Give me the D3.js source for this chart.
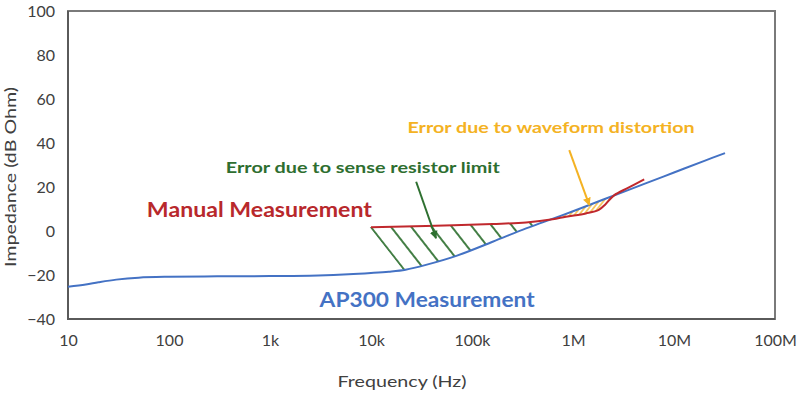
<!DOCTYPE html>
<meta charset="utf-8">
<style>
body { margin: 0; background: #fff; }
text { font-family: Lato, "Open Sans", sans-serif; }
.tick text { fill: #404040; font-size: 16px; }
</style>
<body>
<script src="https://cdn.jsdelivr.net/npm/d3@7"></script>
<script>
var width = 800, height = 394;

// AP300 measurement: frequency (Hz) / impedance (dB Ohm)
var apFreq  = [10, 15, 20, 30, 50, 100, 300, 1000, 3000, 6000, 10000, 15000, 22000, 35000, 70000, 160000, 343000, 500000, 1000000, 2000000, 5000000, 10000000, 20000000, 32000000];
var apValue = [-25.3, -24.3, -23.3, -22.1, -21.2, -20.8, -20.6, -20.5, -20.2, -19.7, -19.1, -18.5, -17.6, -15.4, -11.3, -4.9, 1.2, 3.9, 9.0, 14.3, 21.3, 26.6, 31.9, 35.4];

// manual measurement
var manFreq  = [10000, 35000, 160000, 343000, 628000, 851000, 1340000, 1800000, 2100000, 2550000, 3500000, 5070000];
var manValue = [1.7, 2.3, 3.2, 3.9, 5.3, 6.5, 8.0, 9.6, 12.2, 16.2, 19.6, 23.5];

var xTickValues = [10, 100, 1e3, 1e4, 1e5, 1e6, 1e7, 1e8];
var xTickLabels = ["10", "100", "1k", "10k", "100k", "1M", "10M", "100M"];
var yTickValues = [-40, -20, 0, 20, 40, 60, 80, 100];

var svg = d3.select("body").append("svg")
  .attr("width", width)
  .attr("height", height);

var x = d3.scaleLog().domain([10, 1e8]).range([68, 775]);
var y = d3.scaleLinear().domain([-40, 100]).range([319, 11]);

var line = d3.line()
  .x(function(d) { return x(d[0]); })
  .y(function(d) { return y(d[1]); })
  .curve(d3.curveCatmullRom.alpha(0.5));

var apData = apFreq.map(function(f, i) { return [f, apValue[i]]; });
var manData = manFreq.map(function(f, i) { return [f, manValue[i]]; });

// axes
svg.append("g")
  .attr("transform", "translate(68,0)")
  .call(d3.axisLeft(y).tickValues(yTickValues).tickSize(0).tickPadding(13))
  .call(function(g) { g.select(".domain").remove(); });

svg.append("g")
  .attr("transform", "translate(0,319)")
  .call(d3.axisBottom(x).tickValues(xTickValues).tickSize(0).tickPadding(16)
    .tickFormat(function(d, i) { return xTickLabels[i]; }))
  .call(function(g) { g.select(".domain").remove(); });

// frame
svg.append("rect")
  .attr("x", x.range()[0]).attr("y", y.range()[1])
  .attr("width", x.range()[1] - x.range()[0])
  .attr("height", y.range()[0] - y.range()[1])
  .attr("fill", "none").attr("stroke", "#7a7a7a").attr("stroke-width", 2);
svg.append("path")
  .attr("d", "M" + x.range()[0] + "," + y.range()[1] + "V" + y.range()[0] + "H" + x.range()[1])
  .attr("fill", "none").attr("stroke", "#5a5a5a").attr("stroke-width", 2);

svg.append("text")
  .attr("transform", "translate(16,177) rotate(-90)")
  .attr("text-anchor", "middle")
  .attr("fill", "#404040").attr("font-size", 16)
  .attr("textLength", 180).attr("lengthAdjust", "spacingAndGlyphs")
  .text("Impedance (dB Ohm)");

svg.append("text")
  .attr("x", 402).attr("y", 387)
  .attr("text-anchor", "middle")
  .attr("fill", "#404040").attr("font-size", 16)
  .attr("textLength", 129).attr("lengthAdjust", "spacingAndGlyphs")
  .text("Frequency (Hz)");

var hatchLayer = svg.append("g");
var defs = svg.append("defs");

// curves
var apPath = svg.append("path")
  .datum(apData)
  .attr("d", line)
  .attr("fill", "none").attr("stroke", "#4472c4").attr("stroke-width", 2);

var manPath = svg.append("path")
  .datum(manData)
  .attr("d", line)
  .attr("fill", "none").attr("stroke", "#c0282d").attr("stroke-width", 2);

// sample the drawn curves so the hatched areas follow them exactly
function sample(path) {
  var node = path.node(), len = node.getTotalLength(), pts = [];
  for (var s = 0; s <= len; s += 0.5) {
    var p = node.getPointAtLength(s);
    pts.push([p.x, p.y]);
  }
  return pts;
}
var apPts = sample(apPath), manPts = sample(manPath);
var bis = d3.bisector(function(d) { return d[0]; }).left;
function yAt(pts, px) {
  var i = Math.max(1, Math.min(pts.length - 1, bis(pts, px)));
  var a = pts[i - 1], b = pts[i];
  var t = b[0] == a[0] ? 0 : (px - a[0]) / (b[0] - a[0]);
  return a[1] + t * (b[1] - a[1]);
}

var x0 = manPts[0][0], x1 = manPts[manPts.length - 1][0];
var xs = d3.range(x0, x1, 0.5);
var crossings = [];
for (var i = 1; i < xs.length; i++) {
  var a = yAt(manPts, xs[i - 1]) - yAt(apPts, xs[i - 1]);
  var b = yAt(manPts, xs[i]) - yAt(apPts, xs[i]);
  if ((a > 0) != (b > 0)) crossings.push(xs[i]);
}
var c1 = crossings[0], c2 = crossings[1];

// green region: left edge is a hatch line through the start of the manual curve
var p0 = [x0, yAt(manPts, x0)];
var ang = 38 * Math.PI / 180;
var hitX = x0;
for (var i = 0; i < xs.length; i++) {
  var ly = p0[1] + (xs[i] - p0[0]) / Math.tan(ang);
  if (ly >= yAt(apPts, xs[i])) { hitX = xs[i]; break; }
}
var greenPoly = [[p0[0] - 1.5, p0[1]]]
  .concat(xs.filter(function(v) { return v <= c1; }).map(function(v) { return [v, yAt(manPts, v)]; }))
  .concat(xs.filter(function(v) { return v >= hitX && v <= c1; }).reverse().map(function(v) { return [v, yAt(apPts, v)]; }))
  .concat([[hitX - 1.5, yAt(apPts, hitX)]]);

var yxs = xs.filter(function(v) { return v >= c1 && v <= c2; });
var yellowPoly = yxs.map(function(v) { return [v, yAt(apPts, v)]; })
  .concat(yxs.slice().reverse().map(function(v) { return [v, yAt(manPts, v)]; }));

var hatchG = defs.append("pattern")
  .attr("id", "hatchG")
  .attr("patternUnits", "userSpaceOnUse")
  .attr("x", -8).attr("width", 16).attr("height", 20)
  .attr("patternTransform", "translate(" + p0[0] + "," + p0[1] + ") rotate(-38)");
hatchG.append("path").attr("d", "M8,-1V21").attr("stroke", "#2e7030").attr("stroke-width", 1.8);

var hatchY = defs.append("pattern")
  .attr("id", "hatchY")
  .attr("patternUnits", "userSpaceOnUse")
  .attr("width", 3.6).attr("height", 10)
  .attr("patternTransform", "rotate(38)");
hatchY.append("path").attr("d", "M1.8,-1V11").attr("stroke", "#f4b223").attr("stroke-width", 1.3);

hatchLayer.append("path")
  .attr("d", "M" + greenPoly.join("L") + "Z")
  .attr("fill", "url(#hatchG)");

hatchLayer.append("path")
  .attr("d", "M" + yellowPoly.join("L") + "Z")
  .attr("fill", "url(#hatchY)");

// arrows
var arrows = [
  { from: [28000, 22.4], to: [44000, -3.3], color: "#2e7030", id: "arrG" },
  { from: [918000, 36.8], to: [1450000, 11.8], color: "#f4b223", id: "arrY" }
];
arrows.forEach(function(a) {
  defs.append("marker")
    .attr("id", a.id)
    .attr("viewBox", "0 0 10 10")
    .attr("refX", 9).attr("refY", 5)
    .attr("markerWidth", 4).attr("markerHeight", 4)
    .attr("markerUnits", "strokeWidth")
    .attr("orient", "auto")
    .append("path").attr("d", "M0,0L10,5L0,10Z").attr("fill", a.color);
  svg.append("line")
    .attr("x1", x(a.from[0])).attr("y1", y(a.from[1]))
    .attr("x2", x(a.to[0])).attr("y2", y(a.to[1]))
    .attr("stroke", a.color).attr("stroke-width", 2)
    .attr("marker-end", "url(#" + a.id + ")");
});

// annotation labels, anchored in data space
var notes = [
  { text: "Manual Measurement", f: 60.4, v: 6.2, color: "#b8282c", size: 20, len: 225 },
  { text: "AP300 Measurement", f: 3100, v: -34.7, color: "#4472c4", size: 20, len: 215 },
  { text: "Error due to sense resistor limit", f: 365, v: 26.4, color: "#2e6e30", size: 16, len: 274 },
  { text: "Error due to waveform distortion", f: 23000, v: 44.4, color: "#f4b223", size: 16, len: 287 }
];
svg.selectAll(".note")
  .data(notes)
  .enter().append("text")
  .attr("class", "note")
  .attr("x", function(d) { return x(d.f); })
  .attr("y", function(d) { return y(d.v); })
  .attr("fill", function(d) { return d.color; })
  .attr("font-size", function(d) { return d.size; })
  .attr("font-weight", "bold")
  .attr("textLength", function(d) { return d.len; })
  .attr("lengthAdjust", "spacingAndGlyphs")
  .text(function(d) { return d.text; });
</script>
</body>
